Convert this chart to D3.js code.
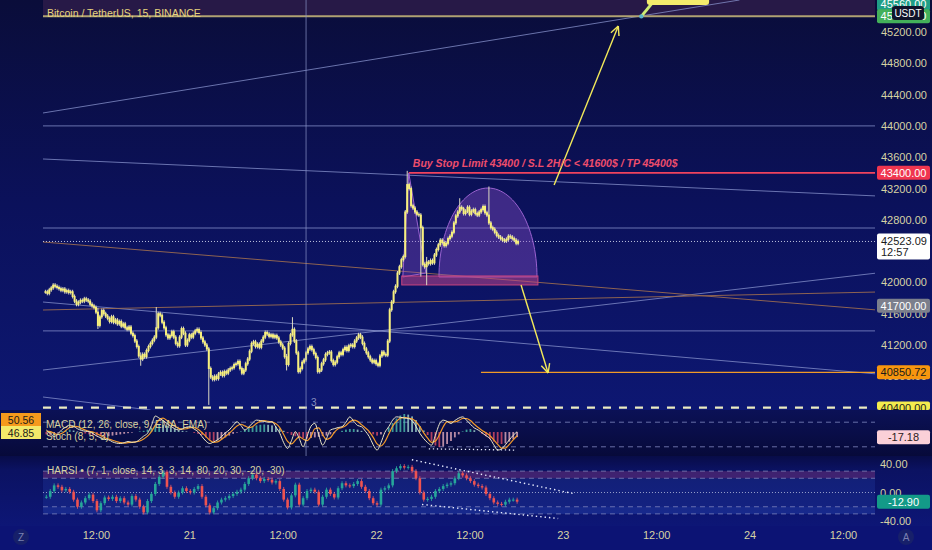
<!DOCTYPE html>
<html><head><meta charset="utf-8">
<script src="https://cdn.jsdelivr.net/npm/d3@7/dist/d3.min.js"></script>
<style>
html,body{margin:0;padding:0;background:#0c1374;overflow:hidden;}
svg{display:block;font-family:"Liberation Sans","DejaVu Sans",sans-serif;}
</style></head><body>
<svg id="c" width="932" height="550"></svg>
<script>
// ---------------- DATA ----------------
// 15-minute closes, BTC/USDT, from 20th 05:30
const priceCloses = [
41880,41860,41905,41930,41965,41950,41935,41920,41900,41915,41880,41895,41870,41880,41820,41760,
41720,41745,41770,41760,41790,41775,41760,41720,41700,41680,41620,41450,41560,41640,41600,41570,
41540,41500,41560,41490,41520,41470,41500,41440,41470,41420,41400,41430,41350,41320,41250,41180,
41060,41020,41080,41050,41130,41180,41220,41260,41300,41420,41600,41580,41490,41420,41330,41290,
41320,41370,41300,41220,41190,41300,41410,41350,41200,41260,41330,41300,41350,41380,41400,41360,
41290,41240,41200,41150,40900,40790,40760,40800,40770,40830,40850,40810,40860,40840,40880,40900,
40910,40950,40960,40990,40900,40840,40880,40960,41020,41120,41220,41240,41180,41210,41170,41250,
41300,41360,41340,41310,41330,41300,41320,41290,41240,41200,41160,41050,40950,41220,41330,41400,
41250,41100,40860,40900,40980,41010,41100,41150,41180,41140,41090,41040,40860,40880,40960,41010,
41080,41100,41110,41000,40950,40980,41050,41100,41080,41140,41170,41130,41190,41200,41180,41250,
41290,41330,41300,41220,41150,41100,41050,41010,40980,41000,40960,40940,41060,41110,41080,41070,
41250,41650,41750,41880,41950,42120,42200,42290,42330,42900,43250,43200,42980,42950,42900,42870,
42860,42700,42230,42200,42260,42240,42280,42250,42350,42420,42480,42540,42510,42470,42500,42560,
42590,42640,42760,42850,42900,42960,42940,42880,42910,42960,42870,42910,42930,42880,42860,42900,
42930,42970,42890,42860,42760,42700,42680,42640,42600,42580,42560,42540,42530,42550,42590,42580,
42560,42540,42500,42523.09];
// [bar index, high, low] for the visible long wicks
const priceWicks = [[27,41650,41430],[49,41080,40960],[57,41660,41300],[84,41150,40460],[124,41060,40900],
  [127,41530,41330],[186,43400,42900],[193,42860,42100],[196,42300,41990],[213,43050,42900],[228,43200,42760]];

// 30-minute series for the indicator panes
const harsiCloses = [
-6,2,10,8,3,5,1,-10,-20,-14,
-8,-3,-12,-25,-15,-7,-9,-6,-12,-8,
-14,-17,-5,-10,-20,-28,-12,-2,12,22,
29,8,0,-6,0,6,2,0,5,9,
-6,-18,-28,-22,-14,-10,-8,-5,-2,1,
4,12,20,25,20,16,19,18,14,16,
5,-10,-21,-4,11,-17,-8,2,4,1,
-17,-6,4,-2,-7,6,13,10,9,12,
16,8,2,-8,-15,-17,4,6,10,30,
34,37,35,36,30,20,0,-10,-9,-6,
2,5,9,11,13,20,27,24,20,16,
11,9,7,-2,-8,-14,-16,-17,-13,-10,
-10,-12.9];
const stochK = [
61,52,45,52,62,68,73,70,64,60,
58,57,52,46,42,38,37,32,29,28,
30,33,31,32,38,46,53,72,95,90,
84,77,70,64,61,64,68,69,63,57,
45,34,28,32,37,45,54,61,72,81,
72,61,68,78,85,84,82,80,81,68,
53,30,16,35,57,40,20,45,70,77,
50,24,40,61,64,67,69,80,93,82,
72,69,58,45,25,12,30,55,69,85,
93,92,90,89,84,70,53,40,30,24,
48,75,85,82,77,84,90,93,85,75,
66,61,54,47,40,25,12,15,25,37,
48,57];
const stochD = [
58,57,53,50,53,60,67,70,69,65,
61,58,56,52,47,42,39,36,33,30,
29,30,31,32,34,39,46,57,73,86,
90,84,77,70,65,63,64,67,67,63,
55,45,36,31,32,38,45,53,62,71,
75,71,67,69,77,82,84,82,81,76,
67,50,33,27,36,44,39,35,45,64,
66,50,38,42,55,64,67,72,81,85,
82,74,66,57,43,27,22,32,51,70,
82,90,92,90,88,81,69,54,41,31,
34,49,69,81,81,81,84,89,89,84,
75,67,60,54,47,37,26,17,17,26,
37,47];
const macdHist = [
-8,-10,-6,-2,3,6,8,5,2,-2,
-5,-8,-10,-12,-14,-15,-14,-12,-10,-8,
-6,-4,-2,0,2,4,8,14,22,26,
24,20,15,10,6,4,2,0,-3,-6,
-10,-18,-26,-30,-28,-24,-18,-12,-6,-2,
2,8,14,18,22,24,25,24,22,18,
12,4,-4,-10,-14,-18,-20,-22,-20,-18,
-16,-14,-12,-8,-4,0,4,8,10,10,
8,4,0,-4,-8,-12,-8,0,15,30,
45,55,60,58,52,40,20,5,-10,-30,
-45,-50,-48,-40,-30,-18,-8,2,8,10,
6,0,-6,-14,-24,-32,-38,-40,-38,-32,
-24,-17];

const priceTicks = [40800,41200,41600,42000,42800,43200,43600,44000,44400,44800,45200];
const timeTickHours = [12,24,36,48,60,72,84,96,108];
const timeTickLabels = ["12:00","21","12:00","22","12:00","23","12:00","24","12:00"];

// drawings: [hour1, price1, hour2, price2] (hours from 20th 00:00)
const greyLines = [[5.19,44165,94.7,45609],[5.19,44000,112.4,44000],[5.19,43577,112.4,43104],
  [5.19,42695,112.4,42695],[5.19,41749,112.4,40829],[5.19,41380,112.4,41380],
  [5.19,40880,112.4,42120],[5.19,40535,19.0,40369]];
const brownLines = [[5.19,42516,112.4,41647],[5.19,41647,112.4,41877]];
const lastPrice = 42523.09, stopPrice = 43400, targetPrice = 45400, lowTarget = 40850.72, dashPrice = 40400;
const cupBox = [51.3, 42082, 68.8, 41967];
const cupArc = {h: 62.38, halfH: 6.3, base: 42069, top: 43206};
const handleTri = [[51.43,42069],[52.2,43398],[54.4,42120]];
const upArrow = [70.88,43245,79.13,45277];
const downArrow = [66.63,41967,70.11,40842];
const stochTrend = [54.78,15,65.99,12];
const harsiTrendUp = [52.6,46,73.3,-1.4];
const harsiTrendDn = [53.9,-16.8,71.4,-36.5];
const crossHour = 39;
const noteText = "Buy Stop Limit 43400 / S.L 2H/C < 41600$ / TP 45400$";

// ---------------- SCALES ----------------
const base = new Date(2022, 2, 20, 0, 0).getTime();
const H = h => new Date(base + h * 3600000);
const PR = 875;
const x = d3.scaleTime().domain([H(0), H(120)]).range([2.6, 2.6 + 120 * 7.781]);
const yP = d3.scaleLinear().domain([40369, 45609]).range([410, 0]);
const yS = d3.scaleLinear().domain([0, 100]).range([455, 414]);
const yM = d3.scaleLinear().domain([-60, 60]).range([450, 414]);
const yH = d3.scaleLinear().domain([-40, 40]).range([521, 464]);
const xh = h => x(H(h));
const priceT = i => 5.5 + i * 0.25;
const indT = j => 5.5 + j * 0.5 + 0.125;

const svg = d3.select('#c');
const defs = svg.append('defs');
function grad(id, stops) {
  const g = defs.append('linearGradient').attr('id', id).attr('x1', 0).attr('y1', 0).attr('x2', 0).attr('y2', 1);
  stops.forEach(([o, c]) => g.append('stop').attr('offset', o).attr('stop-color', c));
}
grad('gMain', [[0, '#0a0d3a'], [0.5, '#0b115b'], [1, '#0d1772']]);
grad('gMacd', [[0, '#0b1156'], [1, '#070a3a']]);
grad('gHarsi', [[0, '#080c48'], [0.2, '#0b1262'], [1, '#0d1676']]);
defs.append('clipPath').attr('id', 'clipMain').append('rect').attr('width', PR).attr('height', 410);
defs.append('clipPath').attr('id', 'clipPlot').append('rect').attr('width', PR).attr('height', 526);

svg.append('rect').attr('width', 932).attr('height', 550).attr('fill', '#0c1374');
svg.append('rect').attr('width', 932).attr('height', 410).attr('fill', 'url(#gMain)');
svg.append('rect').attr('y', 410).attr('width', 932).attr('height', 46).attr('fill', 'url(#gMacd)');
svg.append('rect').attr('y', 456).attr('width', 932).attr('height', 70).attr('fill', 'url(#gHarsi)');

const gm = svg.append('g').attr('clip-path', 'url(#clipMain)');
const x0 = xh(5.19);

// target zone above 45400
gm.append('rect').attr('x', x0).attr('y', 0).attr('width', PR - x0).attr('height', yP(targetPrice)).attr('fill', '#271947');

// trend lines
function seg(g, d, color, w, dash, op) {
  return g.append('line').attr('x1', xh(d[0])).attr('y1', yP(d[1])).attr('x2', xh(d[2])).attr('y2', yP(d[3]))
    .attr('stroke', color).attr('stroke-width', w).attr('stroke-dasharray', dash || null).attr('opacity', op == null ? 1 : op);
}
greyLines.forEach(d => seg(gm, d, '#8a95cf', 1, null, 0.75));
brownLines.forEach(d => seg(gm, d, '#9c6c50', 1, null, 0.9));
seg(gm, [5.19, lastPrice, 112.4, lastPrice], '#d8dcf0', 1, '1,2', 0.9);
seg(gm, [5.19, targetPrice, 112.4, targetPrice], '#b0a272', 2);
seg(gm, [52.2, stopPrice, 112.4, stopPrice], '#f0435e', 1.6);
seg(gm, [61.48, lowTarget, 112.4, lowTarget], '#f09a28', 1.3);
seg(gm, [5.19, dashPrice, 112.4, dashPrice], '#ececc2', 2.2, '8,8');

// cup drawing
const arcPts = d3.range(0, 61).map(k => {
  const th = Math.PI * k / 60;
  return [xh(cupArc.h - cupArc.halfH * Math.cos(th)), yP(cupArc.base + (cupArc.top - cupArc.base) * Math.sin(th))];
});
gm.append('path').attr('d', d3.line()(arcPts) + 'Z').attr('fill', 'rgba(140,80,200,0.4)').attr('stroke', '#9a62d0').attr('stroke-width', 1);
gm.append('path').attr('d', d3.line()(handleTri.map(p => [xh(p[0]), yP(p[1])])) + 'Z')
  .attr('fill', 'rgba(140,80,200,0.35)').attr('stroke', '#9a62d0').attr('stroke-width', 1);
gm.append('rect').attr('x', xh(cupBox[0])).attr('y', yP(cupBox[1])).attr('width', xh(cupBox[2]) - xh(cupBox[0]))
  .attr('height', yP(cupBox[3]) - yP(cupBox[1])).attr('fill', 'rgba(190,70,140,0.55)').attr('stroke', '#c8457e').attr('stroke-width', 1);

// candles
const wickMap = new Map(priceWicks.map(w => [w[0], w]));
const candles = priceCloses.map((c, i) => {
  const o = i > 0 ? priceCloses[i - 1] : c;
  const w = wickMap.get(i);
  return {t: priceT(i), o, c, hi: w ? w[1] : Math.max(o, c), lo: w ? w[2] : Math.min(o, c)};
});
gm.append('g').selectAll('line').data(candles).join('line')
  .attr('x1', d => xh(d.t)).attr('x2', d => xh(d.t))
  .attr('y1', d => yP(d.hi) - 2).attr('y2', d => yP(d.lo) + 2)
  .attr('stroke', '#dcdac4').attr('stroke-width', 1);
gm.append('g').selectAll('rect').data(candles).join('rect')
  .attr('x', d => xh(d.t) - 1).attr('width', 2)
  .attr('y', d => yP(Math.max(d.o, d.c)) - 0.5)
  .attr('height', d => Math.max(1.5, Math.abs(yP(d.o) - yP(d.c)) + 1))
  .attr('fill', '#f8f07c');

// arrows
function arrow(a) {
  const x1 = xh(a[0]), y1 = yP(a[1]), x2 = xh(a[2]), y2 = yP(a[3]);
  const ang = Math.atan2(y2 - y1, x2 - x1);
  gm.append('line').attr('x1', x1).attr('y1', y1).attr('x2', x2).attr('y2', y2).attr('stroke', '#f2e95a').attr('stroke-width', 1.4);
  [-0.45, 0.45].forEach(da => {
    gm.append('line').attr('x1', x2).attr('y1', y2)
      .attr('x2', x2 - 10 * Math.cos(ang + da)).attr('y2', y2 - 10 * Math.sin(ang + da))
      .attr('stroke', '#f2e95a').attr('stroke-width', 1.4);
  });
}
arrow(upArrow);
arrow(downArrow);

// callout at top
gm.append('line').attr('x1', xh(83.4)).attr('y1', yP(45560)).attr('x2', xh(82.09)).attr('y2', yP(targetPrice))
  .attr('stroke', '#cfee74').attr('stroke-width', 3);
gm.append('rect').attr('x', xh(82.8)).attr('y', yP(45700)).attr('width', xh(90.8) - xh(82.8)).attr('height', yP(45545) - yP(45700))
  .attr('rx', 3).attr('fill', '#f4ec6c');
gm.append('circle').attr('cx', xh(82.09)).attr('cy', yP(targetPrice)).attr('r', 2.2).attr('fill', '#5ab4c8');

// note text
gm.append('text').attr('x', xh(52.72)).attr('y', yP(43470)).text(noteText)
  .attr('fill', '#ee4d6c').attr('font-size', 10.5).attr('font-style', 'italic').attr('font-weight', 'bold');

// title
svg.append('text').attr('x', 47).attr('y', 17).text('Bitcoin / TetherUS, 15, BINANCE')
  .attr('fill', '#e6d47e').attr('font-size', 10.5);

// crosshair
svg.append('line').attr('x1', xh(crossHour)).attr('x2', xh(crossHour)).attr('y1', 0).attr('y2', 456)
  .attr('stroke', '#8a94c8').attr('stroke-width', 1).attr('opacity', 0.7);
svg.append('text').attr('x', xh(crossHour) + 5).attr('y', 406).text('3').attr('fill', '#8a90c0').attr('font-size', 10);

// ---------------- MACD / STOCH pane ----------------
const gs = svg.append('g').attr('clip-path', 'url(#clipPlot)');
[80, 20].forEach(v => gs.append('line').attr('x1', x0).attr('x2', PR).attr('y1', yS(v)).attr('y2', yS(v))
  .attr('stroke', '#8088c0').attr('stroke-width', 1).attr('stroke-dasharray', '5,4').attr('opacity', 0.8));
const histD = macdHist.map((v, j) => ({t: indT(j), v, prev: j > 0 ? macdHist[j - 1] : v}));
gs.append('g').selectAll('rect').data(histD).join('rect')
  .attr('x', d => xh(d.t) - 0.9).attr('width', 1.8)
  .attr('y', d => Math.min(yM(d.v), yM(0))).attr('height', d => Math.abs(yM(d.v) - yM(0)))
  .attr('fill', d => d.v >= 0 ? (d.v >= d.prev ? '#4fc7b0' : '#a9e2d6') : (d.v <= d.prev ? '#e8506a' : '#f3b5c4'))
  .attr('opacity', 0.75);
const lineS = d3.line().x((d, j) => xh(indT(j))).y(d => yS(d)).curve(d3.curveMonotoneX);
gs.append('path').attr('d', lineS(stochD)).attr('fill', 'none').attr('stroke', '#f39a2a').attr('stroke-width', 1.2);
gs.append('path').attr('d', lineS(stochK)).attr('fill', 'none').attr('stroke', '#ece9c8').attr('stroke-width', 1);
gs.append('line').attr('x1', xh(stochTrend[0])).attr('y1', yS(stochTrend[1])).attr('x2', xh(stochTrend[2])).attr('y2', yS(stochTrend[3]))
  .attr('stroke', '#e8ecff').attr('stroke-width', 1.3).attr('stroke-dasharray', '1.3,2.7');
svg.append('text').attr('x', 46).attr('y', 428).text('MACD (12, 26, close, 9, EMA, EMA)').attr('fill', '#d9d2a0').attr('font-size', 10);
svg.append('text').attr('x', 46).attr('y', 440).text('Stoch (8, 5, 3)').attr('fill', '#d9d2a0').attr('font-size', 10);

// left stoch labels
[[50.56, '#f59a1c'], [46.85, '#f3ea6a']].forEach((d, k) => {
  svg.append('rect').attr('x', 1).attr('y', 413 + k * 13).attr('width', 40).attr('height', 13).attr('fill', d[1]);
  svg.append('text').attr('x', 21).attr('y', 423.5 + k * 13).attr('text-anchor', 'middle').text(d[0].toFixed(2))
    .attr('fill', '#1a1a1a').attr('font-size', 10.5);
});

// ---------------- HARSI pane ----------------
const gh = svg.append('g').attr('clip-path', 'url(#clipPlot)');
gh.append('rect').attr('x', x0).attr('width', PR + 3 - x0).attr('y', yH(30)).attr('height', yH(-30) - yH(30))
  .attr('rx', 4).attr('fill', 'rgba(45,80,190,0.22)');
gh.append('rect').attr('x', x0).attr('width', PR + 3 - x0).attr('y', yH(30)).attr('height', yH(20) - yH(30))
  .attr('fill', 'rgba(150,40,100,0.35)');
gh.append('rect').attr('x', x0).attr('width', PR + 3 - x0).attr('y', yH(-20)).attr('height', yH(-30) - yH(-20))
  .attr('fill', 'rgba(45,80,190,0.18)');
[30, 20, -20, -30].forEach(v => gh.append('line').attr('x1', x0).attr('x2', PR).attr('y1', yH(v)).attr('y2', yH(v))
  .attr('stroke', '#8a90c4').attr('stroke-width', 1).attr('stroke-dasharray', '5,4').attr('opacity', 0.7));
gh.append('line').attr('x1', x0).attr('x2', PR).attr('y1', yH(0)).attr('y2', yH(0))
  .attr('stroke', '#b8bedf').attr('stroke-width', 1).attr('stroke-dasharray', '1,2').attr('opacity', 0.8);
const ha = harsiCloses.map((c, j) => ({t: indT(j), o: j > 0 ? harsiCloses[j - 1] : c, c}));
gh.append('g').selectAll('line').data(ha).join('line')
  .attr('x1', d => xh(d.t)).attr('x2', d => xh(d.t))
  .attr('y1', d => yH(Math.max(d.o, d.c)) - 2).attr('y2', d => yH(Math.min(d.o, d.c)) + 2)
  .attr('stroke', d => d.c >= d.o ? '#2fb4a0' : '#ef5a6a').attr('stroke-width', 0.8);
gh.append('g').selectAll('rect').data(ha).join('rect')
  .attr('x', d => xh(d.t) - 1.3).attr('width', 2.6)
  .attr('y', d => yH(Math.max(d.o, d.c))).attr('height', d => Math.max(1, Math.abs(yH(d.o) - yH(d.c))))
  .attr('fill', d => d.c >= d.o ? '#26a69a' : '#ef5350');
[harsiTrendUp, harsiTrendDn].forEach(d => gh.append('line')
  .attr('x1', xh(d[0])).attr('y1', yH(d[1])).attr('x2', xh(d[2])).attr('y2', yH(d[3]))
  .attr('stroke', '#e8ecff').attr('stroke-width', 1.4).attr('stroke-dasharray', '1.4,3'));
svg.append('text').attr('x', 47).attr('y', 474).text('HARSI • (7, 1, close, 14, 3, 3, 14, 80, 20, 30, -20, -30)')
  .attr('fill', '#d9d2a0').attr('font-size', 10);
// HARSI scale labels
[40, 0, -40].forEach(v => svg.append('text').attr('x', 880).attr('y', yH(v) + 4).text(v.toFixed(2))
  .attr('fill', '#d6d2a4').attr('font-size', 11));
svg.append('rect').attr('x', 877).attr('y', yH(-12.9) - 7).attr('width', 53).attr('height', 14).attr('rx', 2).attr('fill', '#139a88');
svg.append('text').attr('x', 903.5).attr('y', yH(-12.9) + 4).attr('text-anchor', 'middle').text('-12.90').attr('fill', '#ffffff').attr('font-size', 11);
svg.append('rect').attr('x', 877).attr('y', yM(-17.18) - 7).attr('width', 53).attr('height', 14).attr('rx', 2).attr('fill', '#fbd0d8');
svg.append('text').attr('x', 903.5).attr('y', yM(-17.18) + 4).attr('text-anchor', 'middle').text('-17.18').attr('fill', '#2a1a1a').attr('font-size', 11);

// ---------------- PRICE AXIS ----------------
const ay = svg.append('g').attr('transform', `translate(${PR},0)`)
  .call(d3.axisRight(yP).tickValues(priceTicks).tickFormat(d3.format('.2f')).tickSize(0).tickPadding(6));
ay.select('.domain').remove();
ay.selectAll('text').attr('fill', '#d6d2a4').attr('font-size', 11).attr('font-family', '"Liberation Sans",sans-serif');

function plabel(p, text, bg, fg, h) {
  const hh = h || 14;
  svg.append('rect').attr('x', 877).attr('y', yP(p) - 7).attr('width', 53).attr('height', hh).attr('rx', 2).attr('fill', bg);
  svg.append('text').attr('x', 903.5).attr('y', yP(p) + 4).attr('text-anchor', 'middle').text(text).attr('fill', fg).attr('font-size', 11);
}
plabel(45560, '45560.00', '#1f9e86', '#ffffff');
plabel(targetPrice, '45400.00', '#43b05a', '#ffffff');
svg.append('rect').attr('x', 892).attr('y', 6).attr('width', 32).attr('height', 14).attr('rx', 3).attr('fill', '#10142a');
svg.append('text').attr('x', 908).attr('y', 16.5).attr('text-anchor', 'middle').text('USDT').attr('fill', '#ffffff').attr('font-size', 10);
plabel(stopPrice, '43400.00', '#f0364f', '#ffffff');
svg.append('rect').attr('x', 877).attr('y', yP(lastPrice) - 8).attr('width', 53).attr('height', 26).attr('rx', 2).attr('fill', '#ffffff');
svg.append('text').attr('x', 881).attr('y', yP(lastPrice) + 3.5).text('42523.09').attr('fill', '#1a1a1a').attr('font-size', 11);
svg.append('text').attr('x', 881).attr('y', yP(lastPrice) + 15).text('12:57').attr('fill', '#1a1a1a').attr('font-size', 11);
plabel(41700, '41700.00', '#7c7f8c', '#ffffff');
plabel(lowTarget, '40850.72', '#f7960e', '#1a1a1a');
svg.append('rect').attr('x', 877).attr('y', yP(dashPrice) - 6).attr('width', 53).attr('height', 410 - yP(dashPrice) + 6).attr('rx', 2).attr('fill', '#f4ec4e');
svg.append('text').attr('x', 903.5).attr('y', yP(dashPrice) + 4).attr('text-anchor', 'middle').text('40400.00').attr('fill', '#1a1a1a').attr('font-size', 11);
svg.append('rect').attr('x', 876).attr('y', 410).attr('width', 56).attr('height', 4).attr('fill', '#0b1156');

// ---------------- TIME AXIS ----------------
const ax = svg.append('g').attr('transform', 'translate(0,526)')
  .call(d3.axisBottom(x).tickValues(timeTickHours.map(H)).tickFormat((d, k) => timeTickLabels[k]).tickSize(0).tickPadding(5));
ax.select('.domain').remove();
ax.selectAll('text').attr('fill', '#d6d2a4').attr('font-size', 11).attr('font-family', '"Liberation Sans",sans-serif');
[[21, 'Z'], [906, 'A']].forEach(d => {
  svg.append('circle').attr('cx', d[0]).attr('cy', 537).attr('r', 8).attr('fill', '#17206a');
  svg.append('text').attr('x', d[0]).attr('y', 541).attr('text-anchor', 'middle').text(d[1]).attr('fill', '#7a80b0').attr('font-size', 10);
});
</script>
</body></html>
